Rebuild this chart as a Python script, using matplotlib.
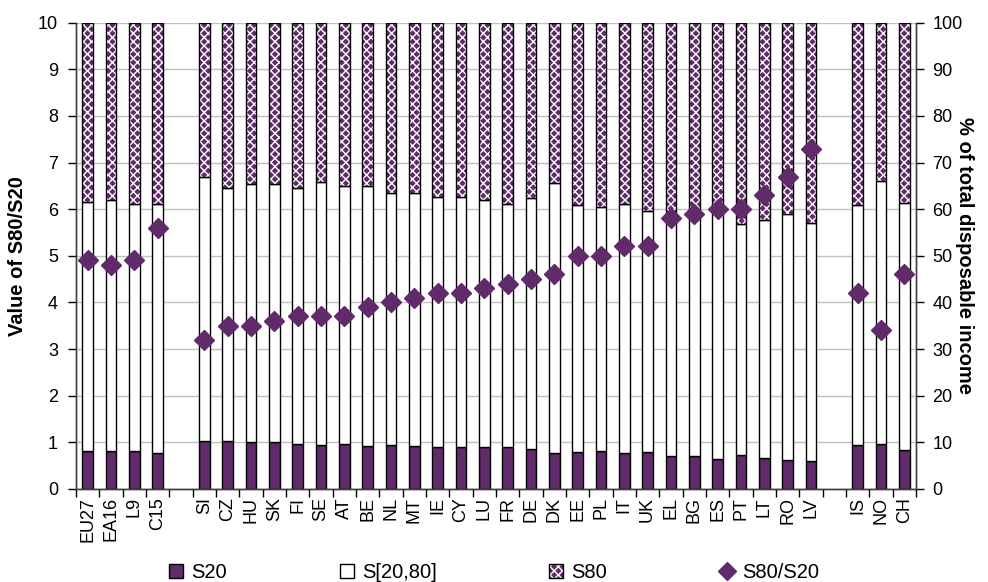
import matplotlib
matplotlib.use('Agg')
import matplotlib.pyplot as plt
from matplotlib.lines import Line2D
import numpy as np

# grupos de paises (separados por un hueco en el eje)
grupo_ue = ['EU27', 'EA16', 'L9', 'C15']
grupo_paises = ['SI', 'CZ', 'HU', 'SK', 'FI', 'SE', 'AT', 'BE', 'NL', 'MT', 'IE', 'CY', 'LU',
                'FR', 'DE', 'DK', 'EE', 'PL', 'IT', 'UK', 'EL', 'BG', 'ES', 'PT', 'LT', 'RO', 'LV']
grupo_efta = ['IS', 'NO', 'CH']

# % de la renta disponible total
s20 = [8.1, 8.1, 8.1, 7.6,
       10.3, 10.3, 10.0, 10.0, 9.7, 9.4, 9.7, 9.2, 9.4, 9.2, 8.9, 8.9, 8.9,
       8.9, 8.6, 7.6, 7.9, 8.1, 7.6, 7.9, 7.0, 7.0, 6.5, 7.3, 6.7, 6.2, 6.0,
       9.4, 9.7, 8.4]
s80 = [38.4, 38.1, 38.9, 38.9,
       33.1, 35.5, 34.6, 34.6, 35.5, 34.1, 35.1, 35.1, 36.6, 36.6, 37.4, 37.4, 38.1,
       38.9, 37.6, 34.4, 39.2, 39.6, 38.9, 40.3, 40.6, 41.1, 39.4, 43.1, 42.4, 41.1, 43.0,
       39.2, 33.9, 38.7]
# ratio S80/S20
ratio = [4.9, 4.8, 4.9, 5.6,
         3.2, 3.5, 3.5, 3.6, 3.7, 3.7, 3.7, 3.9, 4.0, 4.1, 4.2, 4.2, 4.3,
         4.4, 4.5, 4.6, 5.0, 5.0, 5.2, 5.2, 5.8, 5.9, 6.0, 6.0, 6.3, 6.7, 7.3,
         4.2, 3.4, 4.6]

MORADO = '#612A6B'

plt.rcParams['font.family'] = ['Liberation Sans', 'DejaVu Sans']
plt.rcParams['font.size'] = 13
plt.rcParams['hatch.linewidth'] = 1.0

etiquetas = grupo_ue + [''] + grupo_paises + [''] + grupo_efta
x = np.array([i for i, e in enumerate(etiquetas) if e != ''])
nombres = [e for e in etiquetas if e != '']

s20 = np.array(s20)
s80 = np.array(s80)
s_medio = 100 - s20 - s80

fig = plt.figure(figsize=(9.88, 5.82), dpi=100)
ax = fig.add_axes([0.077, 0.16, 0.85, 0.801])
ax2 = ax.twinx()
ax2.set_zorder(ax.get_zorder() - 1)
ax.patch.set_visible(False)

ancho = 0.46
b1 = ax2.bar(x, s20, ancho, color=MORADO, edgecolor='black', linewidth=1)
b2 = ax2.bar(x, s_medio, ancho, bottom=s20, color='white', edgecolor='black', linewidth=1)
b3 = ax2.bar(x, s80, ancho, bottom=s20 + s_medio, color=MORADO, edgecolor='white',
             hatch='xxxx', linewidth=0)
b3b = ax2.bar(x, s80, ancho, bottom=s20 + s_medio, color='none', edgecolor='black', linewidth=1)

ax.plot(x, ratio, linestyle='none', marker='D', markersize=10.5, color=MORADO, clip_on=False)

ax.set_xlim(-0.5, len(etiquetas) - 0.5)
ax.set_ylim(0, 10)
ax2.set_ylim(0, 100)
ax.set_yticks(range(0, 11))
ax2.set_yticks(range(0, 101, 10))
ax2.yaxis.grid(True, color='#c0c0c0', linewidth=1)
ax2.set_axisbelow(True)

# ticks en los limites de cada categoria, etiquetas en el centro
ax.set_xticks(np.arange(-0.5, len(etiquetas), 1.0))
ax.set_xticklabels([])
ax.set_xticks(x, minor=True)
ax.set_xticklabels(nombres, minor=True, rotation=90)
ax.tick_params(axis='x', which='major', length=6, width=1, direction='out')
ax.tick_params(axis='x', which='minor', length=0, pad=6)
ax.tick_params(axis='y', length=6, width=1, pad=7)
ax2.tick_params(axis='y', length=6, width=1, pad=6)
ax2.tick_params(axis='x', which='both', length=0, labelbottom=False)

for a in (ax, ax2):
    a.spines['top'].set_visible(False)
    for s in ('left', 'right', 'bottom'):
        a.spines[s].set_color('#404040')
        a.spines[s].set_linewidth(1)

ax.set_ylabel('Value of S80/S20', fontweight='bold', fontsize=14.5, labelpad=8)
ax2.set_ylabel('% of total disposable income', fontweight='bold', fontsize=14.5,
               rotation=270, labelpad=8)

marcador = Line2D([], [], linestyle='none', marker='D', markersize=9, color=MORADO)
fig.legend([b1, b2, (b3, b3b), marcador], ['S20', 'S[20,80]', 'S80', 'S80/S20'],
           loc='center', bbox_to_anchor=(0.5, 0.016), ncol=4, frameon=False,
           handlelength=0.7, handleheight=0.7, handletextpad=0.4, columnspacing=5.6,
           fontsize=14.5)

fig.savefig('out.png', dpi=100)
